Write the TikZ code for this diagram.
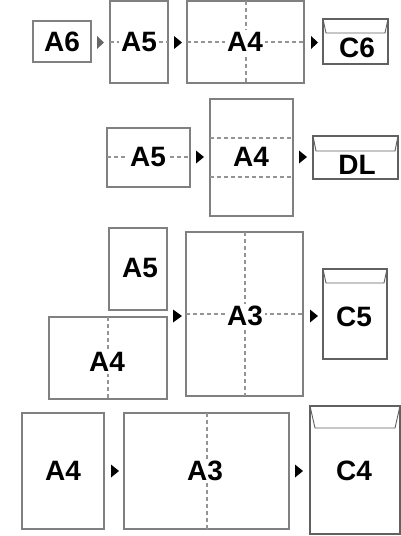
\documentclass[tikz,border=0pt]{standalone}
\usepackage{fontspec}
\setmainfont{Liberation Sans}
\begin{document}
\begin{tikzpicture}[x=1pt,y=-1pt,
  sheet/.style={draw=black!50,line width=1.1pt,fill=white},
  envl/.style={draw=black!62,line width=1.1pt,fill=white},
  flap/.style={draw=black!62,line width=0.9pt},
  fold/.style={draw=black!42,line width=1.1pt,dash pattern=on 4pt off 3pt},
  lbl/.style={font=\bfseries\fontsize{28}{28}\selectfont,fill=white,inner sep=2pt},
  elbl/.style={font=\bfseries\fontsize{28}{28}\selectfont,inner sep=0pt},
  tri/.style={fill=black},
  gtri/.style={fill=black!60}]
\useasboundingbox (0,0) rectangle (401,536);
% ---------- row 1
\draw[sheet] (33,21) rectangle (91,62);
\node[lbl] (a6) at (62,42) {A6};
\draw[sheet] (110,1) rectangle (168,83);
\draw[fold] (110,42) -- (168,42);
\node[lbl] (a5a) at (139,42) {A5};
\draw[sheet] (187,1) rectangle (304,83);
\draw[fold] (187,42) -- (304,42);
\draw[fold] (246,1) -- (246,83);
\node[lbl] (a4a) at (245,42) {A4};
\draw[envl] (323,19) rectangle (388,64);
\draw[flap] (323,19) -- (326,33) -- (385,33) -- (388,19);
\node[elbl] (c6) at (357,48) {C6};
\fill[gtri] (97,36) -- (104,42.5) -- (97,49) -- cycle;
\fill[tri] (174,36) -- (182,42.5) -- (174,49) -- cycle;
\fill[tri] (311,36) -- (318,42.5) -- (311,49) -- cycle;
% ---------- row 2
\draw[sheet] (107,128) rectangle (190,187);
\draw[fold] (107,157) -- (190,157);
\node[lbl] (a5b) at (148,157) {A5};
\draw[sheet] (210,99) rectangle (293,216);
\draw[fold] (210,138) -- (293,138);
\draw[fold] (210,177) -- (293,177);
\node[lbl] (a4b) at (251,157) {A4};
\draw[envl] (313,136) rectangle (398,179);
\draw[flap] (313,136) -- (316,151) -- (395,151) -- (398,136);
\node[elbl] (dl) at (357,165) {DL};
\fill[tri] (196,150.5) -- (204,157) -- (196,163.5) -- cycle;
\fill[tri] (299,150.5) -- (307,157) -- (299,163.5) -- cycle;
% ---------- row 3
\draw[sheet] (109,228) rectangle (167,310);
\node[lbl] (a5c) at (140,268) {A5};
\draw[sheet] (49,317) rectangle (167,399);
\draw[fold] (108,317) -- (108,399);
\node[lbl] (a4c) at (107,362) {A4};
\draw[sheet] (186,232) rectangle (303,396);
\draw[fold] (245,232) -- (245,396);
\draw[fold] (186,314) -- (303,314);
\node[lbl] (a3c) at (245,316) {A3};
\draw[envl] (323,269) rectangle (387,359);
\draw[flap] (323,269) -- (326,283) -- (384,283) -- (387,269);
\node[elbl] (c5) at (354,317) {C5};
\fill[tri] (173,309.5) -- (182,316) -- (173,322.5) -- cycle;
\fill[tri] (310,309.5) -- (318,316) -- (310,322.5) -- cycle;
% ---------- row 4
\draw[sheet] (22,413) rectangle (104,529);
\node[lbl] (a4d) at (63,471) {A4};
\draw[sheet] (124,413) rectangle (289,529);
\draw[fold] (207,413) -- (207,529);
\node[lbl] (a3d) at (205,471) {A3};
\draw[envl] (310,406) rectangle (400,534);
\draw[flap] (310,406) -- (315,428) -- (395,428) -- (400,406);
\node[elbl] (c4) at (354,471) {C4};
\fill[tri] (111,464.5) -- (119,471) -- (111,477.5) -- cycle;
\fill[tri] (295,464.5) -- (303,471) -- (295,477.5) -- cycle;
\end{tikzpicture}
\end{document}
